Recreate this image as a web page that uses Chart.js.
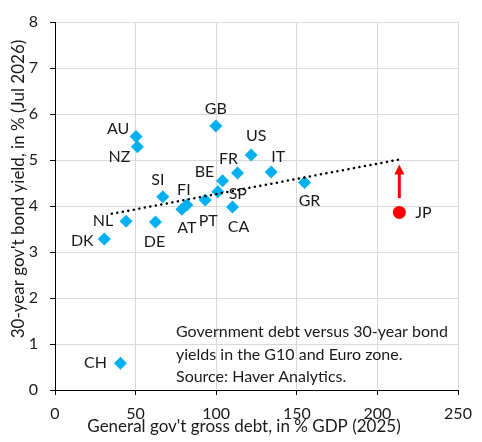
<!DOCTYPE html>
<html>
<head>
<meta charset="utf-8">
<script src="https://cdn.jsdelivr.net/npm/chart.js@4.4.1/dist/chart.umd.min.js"></script>
<style>
  body { margin: 0; background: #fff; }
  #wrap { width: 482px; height: 442px; }
</style>
</head>
<body>
<div id="wrap"><canvas id="debt_chart" width="482" height="442"></canvas></div>
<script>
// Government debt (% GDP) vs 30-year bond yield (%)
const countries = ["AU", "NZ", "GB", "US", "FR", "IT", "BE", "SP", "SI", "FI", "AT", "PT", "CA", "GR", "NL", "DE", "DK", "CH"];
const debtPct = [50.3, 51.1, 99.8, 121.7, 113.2, 134.1, 103.9, 101.0, 66.9, 81.8, 78.7, 93.2, 110.1, 154.8, 44.1, 62.3, 30.6, 40.6];
const yields = [5.51, 5.29, 5.74, 5.11, 4.72, 4.74, 4.55, 4.31, 4.20, 4.02, 3.93, 4.13, 3.98, 4.51, 3.67, 3.65, 3.28, 0.58];

// label placement next to each marker (pixels), same order as countries
const labelOffsets = [
    [-18, -8], [-18, 10], [0, -17], [5, -19], [-9, -14], [7, -15],
    [-18, -9], [20, 2], [-5, -17], [-3, -15], [5, 19], [3, 21],
    [6, 20], [5, 18], [-23, 0], [-1, 20], [-22, 2], [-25, 0]
];

const jpLabel = "JP";
const jpDebt = 213.6;
const jpYield = 3.86;
const jpArrow = [4.17, 4.90]; // from / to, in yield units

const trendX = [35.2, 213.6];
const trendY = [3.83, 5.01];

const xTicks = [0, 50, 100, 150, 200, 250];
const yTicks = [0, 1, 2, 3, 4, 5, 6, 7, 8];

const noteLines = [
    "Government debt versus 30-year bond",
    "yields in the G10 and Euro zone.",
    "Source: Haver Analytics."
];
const xTitle = "General gov't gross debt, in % GDP (2025)";
const yTitle = "30-year gov't bond yield, in % (Jul 2026)";

const FONT = "Lato, 'Liberation Sans', sans-serif";
const TEXT = "#1a1a1a";

document.addEventListener("DOMContentLoaded", () => {
    drawChart();
});

function drawChart()
{
    const ctxEl = document.getElementById("debt_chart");

    const points = countries.map((c, i) => ({ x: debtPct[i], y: yields[i] }));
    const trend = trendX.map((x, i) => ({ x: x, y: trendY[i] }));

    // plugin for labels, arrow, note and axis titles
    const extras = {
        id: "extras",
        afterDatasetsDraw(chart) {
            const ctx = chart.ctx;
            const xs = chart.scales.x;
            const ys = chart.scales.y;
            ctx.save();
            ctx.fillStyle = TEXT;
            ctx.font = "16px " + FONT;
            ctx.textAlign = "center";
            ctx.textBaseline = "middle";

            countries.forEach((c, i) => {
                const px = xs.getPixelForValue(debtPct[i]);
                const py = ys.getPixelForValue(yields[i]);
                ctx.fillText(c, px + labelOffsets[i][0], py + labelOffsets[i][1]);
            });

            // Japan
            const jx = xs.getPixelForValue(jpDebt);
            ctx.fillText(jpLabel, jx + 24, ys.getPixelForValue(jpYield));

            // red arrow
            const y0 = ys.getPixelForValue(jpArrow[0]);
            const y1 = ys.getPixelForValue(jpArrow[1]);
            ctx.strokeStyle = "#ff0000";
            ctx.fillStyle = "#ff0000";
            ctx.lineWidth = 3;
            ctx.beginPath();
            ctx.moveTo(jx, y0);
            ctx.lineTo(jx, y1 + 8);
            ctx.stroke();
            ctx.beginPath();
            ctx.moveTo(jx, y1);
            ctx.lineTo(jx - 5, y1 + 10);
            ctx.lineTo(jx + 5, y1 + 10);
            ctx.closePath();
            ctx.fill();

            // note text
            ctx.fillStyle = TEXT;
            ctx.textAlign = "left";
            noteLines.forEach((line, i) => {
                ctx.fillText(line, 176, 332 + i * 22.5);
            });

            // axis titles
            ctx.font = "17px " + FONT;
            ctx.textAlign = "center";
            ctx.fillText(xTitle, 244, 427);
            ctx.translate(19, 189);
            ctx.rotate(-Math.PI / 2);
            ctx.fillText(yTitle, 0, 0);
            ctx.restore();
        }
    };

    new Chart(ctxEl, {
        type: "scatter",
        data: {
            datasets: [
                {
                    label: "trend",
                    type: "line",
                    data: trend,
                    borderColor: "#000",
                    borderWidth: 2.5,
                    borderDash: [0.1, 5.5],
                    borderCapStyle: "round",
                    pointRadius: 0,
                    fill: false
                },
                {
                    label: "countries",
                    data: points,
                    pointStyle: "rectRot",
                    pointRadius: 6.5,
                    pointBackgroundColor: "#00b0f0",
                    pointBorderWidth: 0
                },
                {
                    label: "JP",
                    data: [{ x: jpDebt, y: jpYield }],
                    pointStyle: "circle",
                    pointRadius: 6.5,
                    pointBackgroundColor: "#ff0000",
                    pointBorderWidth: 0
                }
            ]
        },
        options: {
            responsive: false,
            animation: false,
            layout: { padding: { left: 0, top: 22, right: 24, bottom: 0 } },
            plugins: {
                legend: { display: false },
                tooltip: { enabled: false }
            },
            scales: {
                x: {
                    type: "linear",
                    min: xTicks[0],
                    max: xTicks[xTicks.length - 1],
                    afterBuildTicks: (s) => { s.ticks = xTicks.map(v => ({ value: v })); },
                    afterFit: (s) => { s.height = 52; },
                    grid: { color: "#d9d9d9", tickColor: "#000", tickLength: 5, lineWidth: 1 },
                    border: { color: "#000", width: 1 },
                    ticks: { color: TEXT, font: { family: FONT, size: 16 }, padding: 9, maxRotation: 0 }
                },
                y: {
                    type: "linear",
                    min: yTicks[0],
                    max: yTicks[yTicks.length - 1],
                    afterBuildTicks: (s) => { s.ticks = yTicks.map(v => ({ value: v })); },
                    afterFit: (s) => { s.width = 55; },
                    grid: { color: "#d9d9d9", tickColor: "#000", tickLength: 5, lineWidth: 1 },
                    border: { color: "#000", width: 1 },
                    ticks: { color: TEXT, font: { family: FONT, size: 16 }, padding: 12 }
                }
            }
        },
        plugins: [extras]
    });
}
</script>
</body>
</html>
